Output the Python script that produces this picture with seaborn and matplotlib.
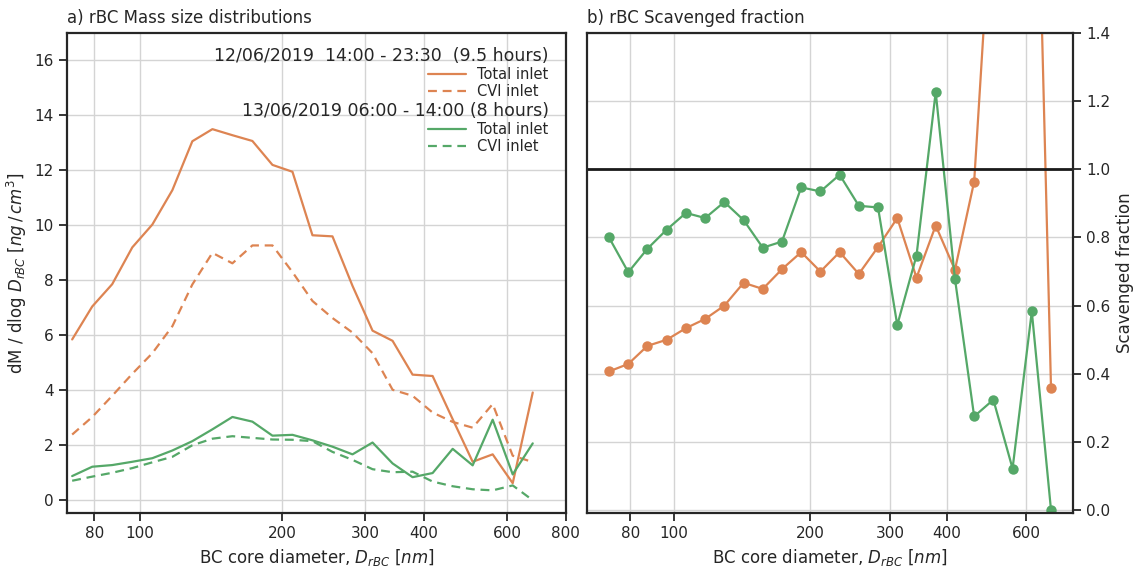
import numpy as np
import pandas as pd
import matplotlib
matplotlib.use("Agg")
import matplotlib.pyplot as plt
from matplotlib.lines import Line2D
from matplotlib.ticker import FixedLocator, FixedFormatter, NullLocator
import seaborn as sns

# ---------------- data ----------------
diameter_nm = [71.8, 79.2, 87.3, 96.3, 106.2, 117.1, 129.1, 142.4, 157.0, 173.1,
               190.9, 210.5, 232.1, 255.9, 282.2, 311.2, 343.2, 378.4, 417.3,
               460.2, 507.4, 559.5, 617.0, 680.4]

total_1206 = [5.85, 7.05, 7.86, 9.2, 10.03, 11.28, 13.06, 13.5, 13.28, 13.07,
              12.2, 11.95, 9.64, 9.6, 7.8, 6.17, 5.8, 4.57, 4.52, 2.95,
              1.4, 1.67, 0.62, 3.92]
cvi_1206 = [2.39, 3.03, 3.8, 4.6, 5.35, 6.33, 7.85, 9.0, 8.62, 9.27,
            9.27, 8.3, 7.25, 6.63, 6.1, 5.35, 4.02, 3.8, 3.19, 2.85,
            2.64, 3.5, 1.62, 1.39]
total_1306 = [0.88, 1.22, 1.28, 1.4, 1.53, 1.81, 2.15, 2.58, 3.03, 2.86,
              2.35, 2.38, 2.18, 1.95, 1.67, 2.1, 1.34, 0.84, 0.99, 1.87,
              1.27, 2.93, 0.94, 2.07]
cvi_1306 = [0.71, 0.86, 1.0, 1.17, 1.38, 1.58, 2.0, 2.24, 2.33, 2.27,
            2.21, 2.2, 2.15, 1.76, 1.47, 1.13, 1.02, 1.04, 0.68, 0.51,
            0.4, 0.36, 0.54, 0.0]

scav_1206 = [0.407, 0.429, 0.482, 0.5, 0.534, 0.561, 0.6, 0.667, 0.649, 0.707,
             0.757, 0.7, 0.757, 0.693, 0.772, 0.857, 0.682, 0.835, 0.705, 0.964,
             1.87, 2.1, 2.6, 0.357]
scav_1306 = [0.80, 0.698, 0.767, 0.823, 0.872, 0.857, 0.904, 0.851, 0.77, 0.788,
             0.947, 0.935, 0.984, 0.893, 0.888, 0.543, 0.747, 1.227, 0.679, 0.275,
             0.324, 0.122, 0.583, 0.0]

x_ticks = [80, 100, 200, 300, 400, 600, 800]
x_tick_labels = ["80", "100", "200", "300", "400", "600", "800"]

title_1206 = "12/06/2019  14:00 - 23:30  (9.5 hours)"
title_1306 = "13/06/2019 06:00 - 14:00 (8 hours)"

# ---------------- style ----------------
sns.set_theme(style="ticks", palette="deep")
plt.rcParams["font.family"] = ["DejaVu Sans"]
plt.rcParams.update({
    "axes.edgecolor": "#262626",
    "axes.linewidth": 1.6,
    "grid.color": "#d4d4d4",
    "grid.linewidth": 1.0,
    "xtick.major.size": 6,
    "ytick.major.size": 6,
    "xtick.major.width": 1.3,
    "ytick.major.width": 1.3,
    "xtick.labelsize": 11,
    "ytick.labelsize": 11,
})
pal = sns.color_palette("deep")
c_or = pal[1]
c_gr = pal[2]
dash = (0, (4, 2.6))
LW = 1.6

df = pd.DataFrame({
    "d": diameter_nm,
    "total_1206": total_1206, "cvi_1206": cvi_1206,
    "total_1306": total_1306, "cvi_1306": cvi_1306,
    "scav_1206": scav_1206, "scav_1306": scav_1306,
})

fig = plt.figure(figsize=(11.35, 5.68), dpi=100)
ax1 = fig.add_axes([0.059, 0.097, 0.4396, 0.845])
ax2 = fig.add_axes([0.5172, 0.097, 0.4282, 0.845])

# ---------------- panel a ----------------
sns.lineplot(data=df, x="d", y="total_1206", ax=ax1, color=c_or, lw=LW)
sns.lineplot(data=df, x="d", y="cvi_1206", ax=ax1, color=c_or, lw=LW, linestyle=dash)
sns.lineplot(data=df, x="d", y="total_1306", ax=ax1, color=c_gr, lw=LW)
sns.lineplot(data=df, x="d", y="cvi_1306", ax=ax1, color=c_gr, lw=LW, linestyle=dash)

ax1.set_xscale("log")
ax1.set_xlim(70, 800)
ax1.set_ylim(-0.46, 17)
ax1.set_yticks(range(0, 17, 2))
ax1.xaxis.set_major_locator(FixedLocator(x_ticks))
ax1.xaxis.set_major_formatter(FixedFormatter(x_tick_labels))
ax1.xaxis.set_minor_locator(NullLocator())
ax1.grid(True)
ax1.set_xlabel(r"BC core diameter, $D_{rBC}$ $[nm]$", fontsize=12)
ax1.set_ylabel(r"dM / dlog $D_{rBC}$ $[ng\,/\,cm^3]$", fontsize=12)
ax1.set_title("a) rBC Mass size distributions", loc="left", fontsize=12, pad=7)

h1 = [Line2D([], [], color=c_or, lw=LW),
      Line2D([], [], color=c_or, lw=LW, linestyle=dash)]
h2 = [Line2D([], [], color=c_gr, lw=LW),
      Line2D([], [], color=c_gr, lw=LW, linestyle=dash)]
leg_kw = dict(loc="upper right", frameon=False, fontsize=10.5, title_fontsize=12.5,
              alignment="right", handlelength=2.6, labelspacing=0.15, borderaxespad=0.3)
leg1 = ax1.legend(h1, ["Total inlet", "CVI inlet"], title=title_1206,
                  bbox_to_anchor=(0.986, 0.992), **leg_kw)
ax1.add_artist(leg1)
ax1.legend(h2, ["Total inlet", "CVI inlet"], title=title_1306,
           bbox_to_anchor=(0.986, 0.878), **leg_kw)

# ---------------- panel b ----------------
sns.lineplot(data=df, x="d", y="scav_1206", ax=ax2, color=c_or, lw=LW, marker="o",
             markersize=7.5, markeredgewidth=0)
sns.lineplot(data=df, x="d", y="scav_1306", ax=ax2, color=c_gr, lw=LW, marker="o",
             markersize=7.5, markeredgewidth=0)
ax2.axhline(1.0, color="#1a1a1a", lw=2.0)
ax2.set_xscale("log")
ax2.set_xlim(64.2, 761)
ax2.set_ylim(-0.008, 1.4)
ax2.set_yticks(np.arange(0, 1.41, 0.2))
ax2.set_yticklabels([f"{v:.1f}" for v in np.arange(0, 1.41, 0.2)])
ax2.xaxis.set_major_locator(FixedLocator(x_ticks))
ax2.xaxis.set_major_formatter(FixedFormatter(x_tick_labels))
ax2.xaxis.set_minor_locator(NullLocator())
ax2.yaxis.tick_right()
ax2.yaxis.set_label_position("right")
ax2.grid(True)
ax2.set_xlabel(r"BC core diameter, $D_{rBC}$ $[nm]$", fontsize=12)
ax2.set_ylabel("Scavenged fraction", fontsize=12)
ax2.set_title("b) rBC Scavenged fraction", loc="left", fontsize=12, pad=7)

fig.savefig("out.png", dpi=100)
